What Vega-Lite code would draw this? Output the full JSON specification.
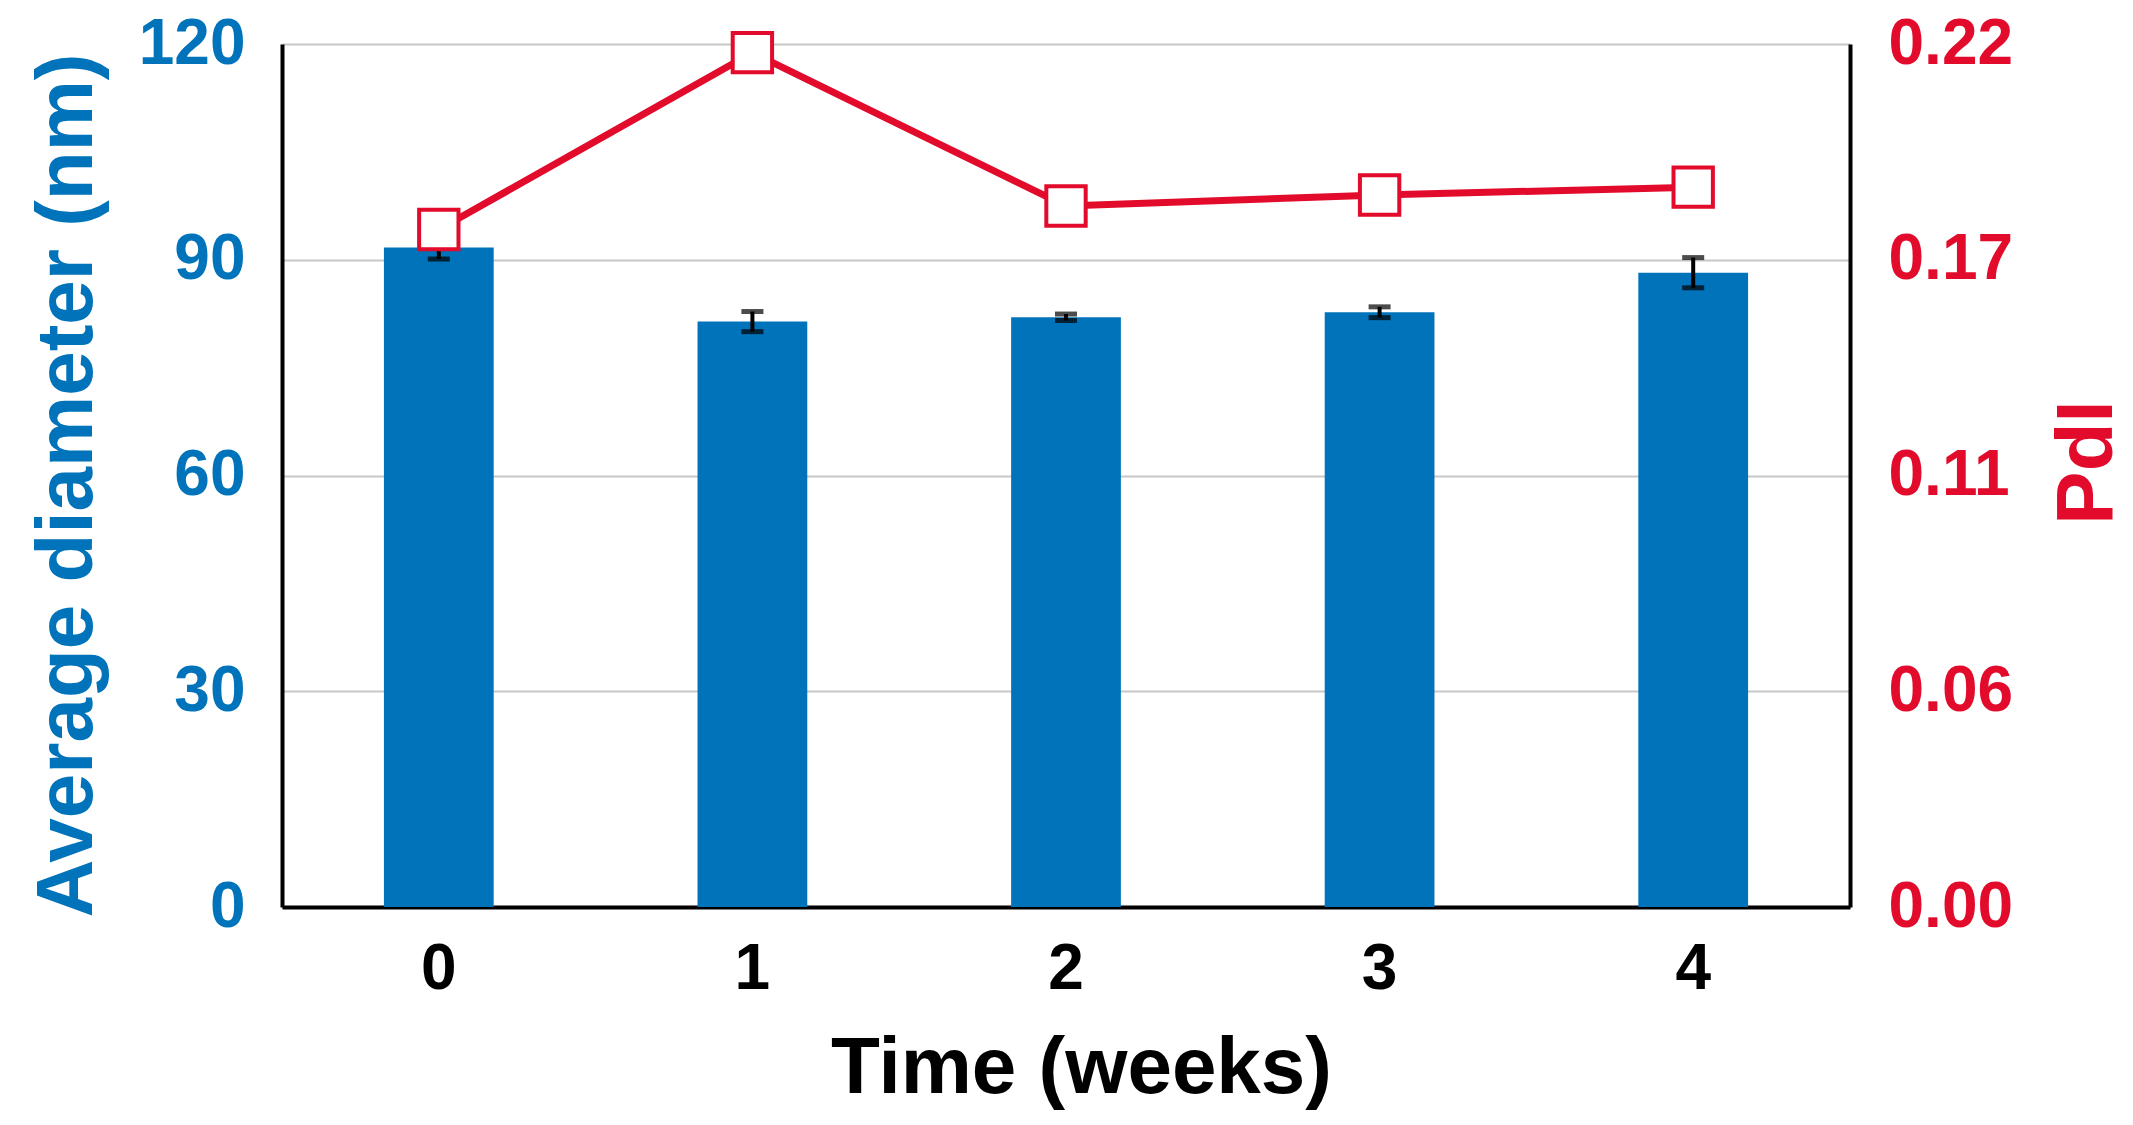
{
  "$schema": "https://vega.github.io/schema/vega-lite/v6.json",
  "width": 1568,
  "height": 863,
  "autosize": {"type": "none"},
  "padding": {"left": 282, "top": 44, "right": 283, "bottom": 218},
  "background": "white",
  "data": {
    "values": [
      {"week": "0", "diam": 91.7, "sd": 1.6, "pdi": 0.1727},
      {"week": "1", "diam": 81.4, "sd": 1.4, "pdi": 0.2178},
      {"week": "2", "diam": 82.0, "sd": 0.45, "pdi": 0.1787},
      {"week": "3", "diam": 82.7, "sd": 0.75, "pdi": 0.1815},
      {"week": "4", "diam": 88.2, "sd": 2.1, "pdi": 0.1835}
    ]
  },
  "encoding": {
    "x": {
      "field": "week",
      "type": "ordinal",
      "scale": {"paddingInner": 0.65, "paddingOuter": 0.325},
      "axis": {
        "title": "Time (weeks)",
        "labelAngle": 0,
        "labelFontSize": 64,
        "labelColor": "#000000",
        "labelPadding": 30,
        "ticks": false,
        "tickSize": 0,
        "domainColor": "#000000",
        "domainWidth": 4,
        "titleFontSize": 80,
        "titleColor": "#000000",
        "titlePadding": 28,
        "titleX": 799
      }
    }
  },
  "layer": [
    {
      "encoding": {
        "y": {
          "field": "diam",
          "type": "quantitative",
          "scale": {"domain": [0, 120], "nice": false},
          "axis": {
            "title": "Average diameter (nm)",
            "values": [0, 30, 60, 90, 120],
            "labelFontSize": 64,
            "labelColor": "#0073BA",
            "labelPadding": 37,
            "ticks": false,
            "tickSize": 0,
            "domainColor": "#000000",
            "domainWidth": 4,
            "grid": true,
            "gridColor": "#c8c8c8",
            "gridWidth": 2,
            "titleFontSize": 80,
            "titleColor": "#0073BA",
            "titlePadding": 30,
            "titleY": 441
          }
        }
      },
      "layer": [
        {
          "mark": {"type": "bar", "color": "#0073BA"}
        },
        {
          "mark": {
            "type": "errorbar",
            "color": "#000000",
            "thickness": 4,
            "ticks": {"size": 22, "thickness": 5, "color": "#000000"},
            "rule": {"strokeWidth": 4, "color": "#000000"}
          },
          "encoding": {
            "yError": {"field": "sd"}
          }
        }
      ]
    },
    {
      "encoding": {
        "y": {
          "field": "pdi",
          "type": "quantitative",
          "scale": {"domain": [0, 0.22], "nice": false},
          "axis": {
            "orient": "right",
            "title": "PdI",
            "values": [0, 0.055, 0.11, 0.165, 0.22],
            "labelExpr": "format(datum.value + 0.0001, '.2f')",
            "labelFontSize": 64,
            "labelColor": "#E30B2B",
            "labelPadding": 38,
            "ticks": false,
            "tickSize": 0,
            "domainColor": "#000000",
            "domainWidth": 4,
            "grid": false,
            "titleFontSize": 80,
            "titleColor": "#E30B2B",
            "titleAngle": -90,
            "titleBaseline": "top",
            "titlePadding": 36,
            "titleY": 418
          }
        }
      },
      "layer": [
        {
          "mark": {"type": "line", "color": "#E30B2B", "strokeWidth": 7}
        },
        {
          "mark": {"type": "point", "shape": "square", "size": 1550, "filled": false, "fill": "#ffffff", "stroke": "#E30B2B", "strokeWidth": 4, "opacity": 1}
        }
      ]
    }
  ],
  "resolve": {"scale": {"y": "independent"}},
  "config": {
    "view": {"stroke": null},
    "font": "Liberation Sans",
    "axis": {
      "labelFont": "Liberation Sans",
      "labelFontWeight": "bold",
      "titleFont": "Liberation Sans",
      "titleFontWeight": "bold"
    }
  }
}
